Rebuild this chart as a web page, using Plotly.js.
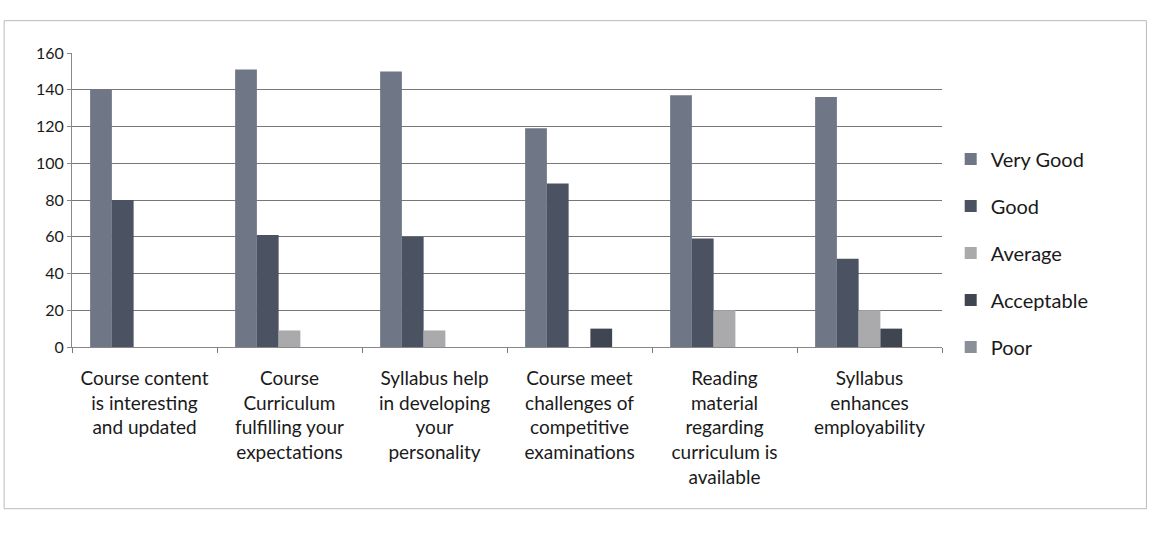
<!DOCTYPE html>
<html>
<head>
<meta charset="utf-8">
<script src="https://cdn.plot.ly/plotly-3.0.1.min.js"></script>
<style>html,body{margin:0;padding:0;background:#fff;}#chart{width:1157px;height:554px;}</style>
</head>
<body>
<div id="chart"></div>
<script>
const categories = [
  "Course content<br>is interesting<br>and updated",
  "Course<br>Curriculum<br>fulfilling your<br>expectations",
  "Syllabus help<br>in developing<br>your<br>personality",
  "Course meet<br>challenges of<br>competitive<br>examinations",
  "Reading<br>material<br>regarding<br>curriculum is<br>available",
  "Syllabus<br>enhances<br>employability"
];
const seriesNames = ["Very Good", "Good", "Average", "Acceptable", "Poor"];
const veryGood   = [140, 151, 150, 119, 137, 136];
const good       = [80, 61, 60, 89, 59, 48];
const average    = [0, 9, 9, 0, 20, 20];
const acceptable = [0, 0, 0, 10, 0, 10];
const poor       = [0, 0, 0, 0, 0, 0];
const yTicks = [0, 20, 40, 60, 80, 100, 120, 140, 160];

const seriesValues = [veryGood, good, average, acceptable, poor];
const colors = ["#6f7686", "#4b5262", "#aaaaad", "#3f4652", "#8b9098"];

const traces = seriesValues.map((vals, i) => ({
  type: "bar",
  name: seriesNames[i],
  x: categories,
  y: vals,
  marker: {color: colors[i], line: {width: 0}},
  legendgroup: "g" + i
}));

const layout = {
  width: 1157, height: 554,
  margin: {l: 72, r: 215, t: 53, b: 207},
  paper_bgcolor: "#ffffff",
  plot_bgcolor: "#ffffff",
  barmode: "group",
  bargap: 0.25,
  bargroupgap: 0,
  font: {family: "Lato, 'Noto Sans', sans-serif", color: "#1a1a1a"},
  xaxis: {
    type: "category",
    tickfont: {size: 19, color: "#1a1a1a"},
    ticks: "outside", tickson: "boundaries", ticklen: 5, tickcolor: "#777",
    ticklabelstandoff: 14,
    showline: true, linecolor: "#888", linewidth: 1,
    showgrid: false, zeroline: false,
    automargin: false
  },
  yaxis: {
    range: [0, 160],
    tickvals: yTicks,
    ticktext: yTicks.map(String),
    tickfont: {size: 16, color: "#1a1a1a"},
    showgrid: true, gridcolor: "#777", gridwidth: 1,
    showline: true, linecolor: "#888", linewidth: 1,
    ticks: "outside", ticklen: 4, tickcolor: "#888",
    zeroline: false,
    automargin: false
  },
  legend: {
    x: 1.01, y: 0.32, xanchor: "left", yanchor: "middle",
    font: {size: 20, color: "#1a1a1a"},
    traceorder: "grouped",
    tracegroupgap: 18,
    itemwidth: 30
  },
  shapes: [{
    type: "rect", xref: "paper", yref: "paper",
    x0: -0.078, x1: 1.235, y0: -0.55, y1: 1.11,
    line: {color: "#bbbbbb", width: 1}
  }]
};

Plotly.newPlot("chart", traces, layout, {displayModeBar: false, staticPlot: true});
</script>
</body>
</html>
